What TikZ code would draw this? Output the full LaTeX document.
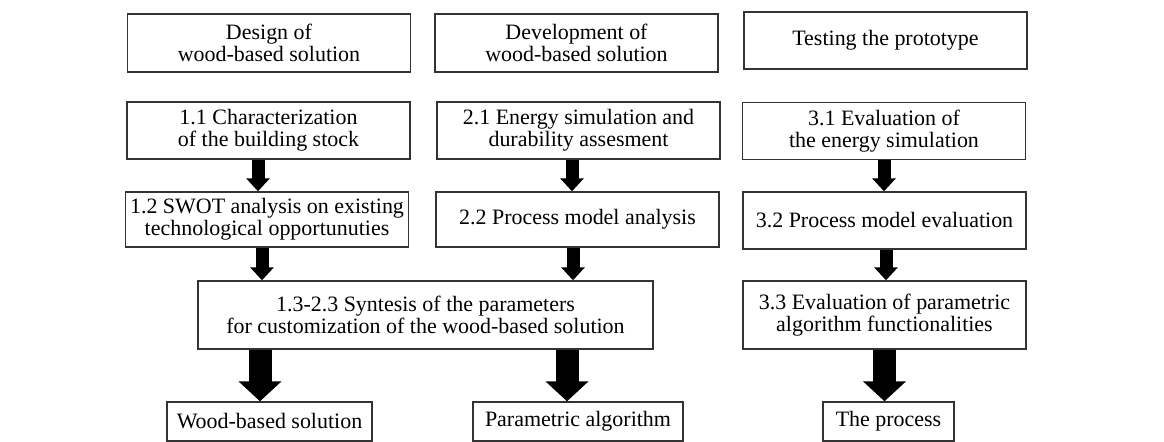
\documentclass[tikz,border=0pt]{standalone}
\usepackage{fontspec}
\setmainfont{Liberation Serif}
\usetikzlibrary{arrows.meta}

\tikzset{
  stage/.style={draw=black!80, line width=0.8pt, align=center, inner sep=0pt,
    minimum width=5.66cm, minimum height=1.14cm,
    font=\fontsize{12.5}{12.5}\selectfont},
  smallarrow/.style={line width=0.26cm, -{Triangle[length=0.26cm,width=0.46cm]}},
  bigarrow/.style={line width=0.46cm, -{Triangle[length=0.4cm,width=0.84cm]}}
}

\begin{document}
\begin{tikzpicture}[x=0.02cm,y=-0.02cm]
\useasboundingbox (0,0) rectangle (1164,441);

% phase headers
\node[stage, minimum height=1.16cm] (design) at (269,43)  {Design of\\wood-based solution};
\node[stage, minimum height=1.16cm] (devel)  at (576.5,43) {Development of\\wood-based solution};
\node[stage] (test) at (885.5,40.5) {Testing the prototype};

% steps
\node[stage] (s11) at (268.5,130.5) {1.1 Characterization\\of the building stock};
\node[stage] (s21) at (578.5,130.5) {2.1 Energy simulation and\\durability assesment};
\node[stage] (s31) at (884,131)     {3.1 Evaluation of\\the energy simulation};
\node[stage, minimum height=1.1cm] (s12) at (267,219.5)   {1.2 SWOT analysis on existing\\technological opportunuties};
\node[stage, minimum height=1.1cm] (s22) at (577.5,219.5) {2.2 Process model analysis};
\node[stage] (s32) at (884.5,220.5) {3.2 Process model evaluation};
\node[stage, minimum width=9.1cm, minimum height=1.36cm] (syn) at (425.5,315)
  {1.3-2.3 Syntesis of the parameters\\for customization of the wood-based solution};
\node[stage, minimum height=1.36cm] (s33) at (884.5,315) {3.3 Evaluation of parametric\\algorithm functionalities};

% results
\node[stage, minimum width=4.1cm, minimum height=0.78cm]  (wood)  at (269.5,421.5) {Wood-based solution};
\node[stage, minimum width=4.2cm, minimum height=0.78cm]  (param) at (578,421.5)   {Parametric algorithm};
\node[stage, minimum width=2.62cm, minimum height=0.78cm] (proc)  at (888.5,421.5) {The process};

% arrows
\draw[smallarrow] ([xshift=-0.21cm]s11.south) -- ([xshift=-0.21cm]s11.south |- s12.north);
\draw[smallarrow] ([xshift=-0.13cm]s21.south) -- ([xshift=-0.13cm]s21.south |- s22.north);
\draw[smallarrow] (s31.south) -- (s31.south |- s32.north);
\draw[smallarrow] ([xshift=-0.1cm]s12.south) -- ([xshift=-0.1cm]s12.south |- syn.north);
\draw[smallarrow] ([xshift=-0.09cm]s22.south) -- ([xshift=-0.09cm]s22.south |- syn.north);
\draw[smallarrow] ([xshift=0.03cm]s32.south) -- ([xshift=0.03cm]s32.south |- s33.north);
\draw[bigarrow] ([xshift=-0.19cm]wood.north |- syn.south) -- ([xshift=-0.19cm]wood.north);
\draw[bigarrow] ([xshift=-0.22cm]param.north |- syn.south) -- ([xshift=-0.22cm]param.north);
\draw[bigarrow] (s33.south) -- (s33.south |- proc.north);
\end{tikzpicture}
\end{document}
